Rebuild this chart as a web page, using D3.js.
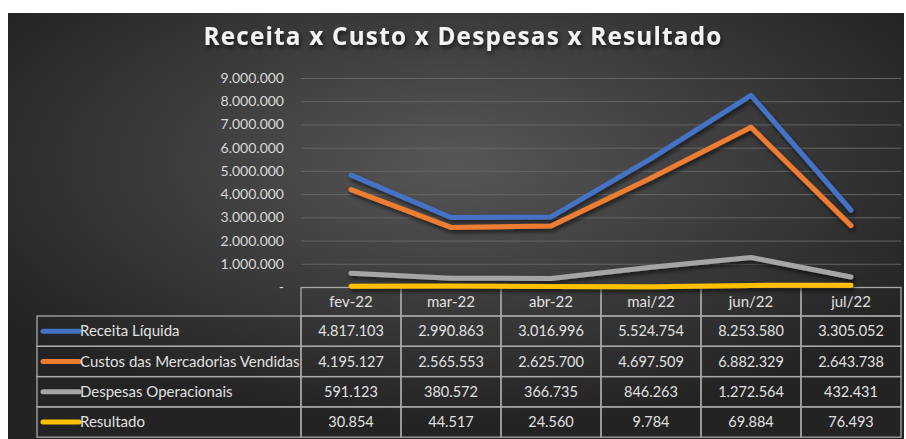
<!DOCTYPE html>
<html>
<head>
<meta charset="utf-8">
<script src="https://cdn.jsdelivr.net/npm/d3@7"></script>
<style>
  body { margin: 0; background: #fff; }
  svg { display: block; }
</style>
</head>
<body>
<div id="chart"></div>
<script>
  // data
  var months = ["fev-22", "mar-22", "abr-22", "mai/22", "jun/22", "jul/22"];
  var seriesNames = ["Receita Líquida", "Custos das Mercadorias Vendidas", "Despesas Operacionais", "Resultado"];
  var receita = [4817103, 2990863, 3016996, 5524754, 8253580, 3305052];
  var custos = [4195127, 2565553, 2625700, 4697509, 6882329, 2643738];
  var despesas = [591123, 380572, 366735, 846263, 1272564, 432431];
  var resultado = [30854, 44517, 24560, 9784, 69884, 76493];
  var yTicks = [0, 1000000, 2000000, 3000000, 4000000, 5000000, 6000000, 7000000, 8000000, 9000000];
  var colors = ["#4472C4", "#ED7D31", "#A5A5A5", "#FFC000"];

  var allSeries = [receita, custos, despesas, resultado];

  var W = 906, H = 439;
  var font = "Lato, 'Open Sans', sans-serif";

  var ptBR = d3.formatLocale({decimal: ",", thousands: ".", grouping: [3], currency: ["R$", ""]});
  var fmt = ptBR.format(",.0f");

  var svg = d3.select("#chart").append("svg")
    .attr("width", W)
    .attr("height", H);

  var defs = svg.append("defs");
  var grad = defs.append("radialGradient")
    .attr("id", "bg")
    .attr("cx", "50%").attr("cy", "35%").attr("r", "62%");
  grad.append("stop").attr("offset", "0%").attr("stop-color", "#575757");
  grad.append("stop").attr("offset", "100%").attr("stop-color", "#232323");

  // shadow region in page units so flat lines are not clipped
  var shadow = defs.append("filter").attr("id", "shadow")
    .attr("filterUnits", "userSpaceOnUse")
    .attr("x", 0).attr("y", 0).attr("width", W).attr("height", H);
  shadow.append("feDropShadow")
    .attr("dx", 1.5).attr("dy", 3).attr("stdDeviation", 2)
    .attr("flood-color", "#000").attr("flood-opacity", 0.6);

  // panel
  svg.append("rect")
    .attr("x", 8).attr("y", 13)
    .attr("width", 896).attr("height", 426)
    .attr("fill", "url(#bg)");

  // title
  svg.append("text")
    .attr("x", 463).attr("y", 45)
    .attr("text-anchor", "middle")
    .attr("font-family", "'Open Sans', sans-serif")
    .attr("font-weight", 700)
    .attr("font-size", 24.3)
    .attr("letter-spacing", 1.2)
    .attr("fill", "#f2f2f2")
    .attr("filter", "url(#shadow)")
    .text("Receita x Custo x Despesas x Resultado");

  // scales
  var x = d3.scaleBand().domain(months).range([301, 901]);
  var y = d3.scaleLinear().domain([0, 9000000]).range([287, 78]);

  // gridlines
  svg.append("g")
    .attr("transform", "translate(301,0)")
    .call(d3.axisRight(y).tickValues(yTicks.slice(1)).tickSize(600).tickFormat(""))
    .call(function (g) { g.select(".domain").remove(); })
    .selectAll("line")
    .attr("stroke", "#646464")
    .attr("stroke-width", 1);

  // y axis labels
  svg.append("g")
    .attr("transform", "translate(284,0)")
    .call(d3.axisLeft(y).tickValues(yTicks).tickSize(0)
      .tickFormat(function (d) { return d === 0 ? "-" : fmt(d); }))
    .call(function (g) { g.select(".domain").remove(); })
    .selectAll("text")
    .attr("x", 0)
    .attr("font-family", font)
    .attr("font-size", 14)
    .attr("fill", "#d9d9d9");

  // data table
  var rowTop = 316, rowH = 30.3, headTop = 287.5, tableLeft = 37;
  var border = "#a9a9a9";
  var table = svg.append("g");

  // header cells
  table.selectAll("rect.head")
    .data(months)
    .enter().append("rect")
    .attr("class", "head")
    .attr("x", function (d) { return x(d); })
    .attr("y", headTop)
    .attr("width", x.bandwidth())
    .attr("height", rowTop - headTop)
    .attr("fill", "none")
    .attr("stroke", border)
    .attr("stroke-width", 1.3);

  table.selectAll("text.head")
    .data(months)
    .enter().append("text")
    .attr("class", "head")
    .attr("x", function (d) { return x(d) + x.bandwidth() / 2; })
    .attr("y", (headTop + rowTop) / 2)
    .attr("dy", "0.35em")
    .attr("text-anchor", "middle")
    .attr("font-family", font)
    .attr("font-size", 15)
    .attr("fill", "#e0e0e0")
    .text(function (d) { return d; });

  var rows = table.selectAll("g.row")
    .data(allSeries)
    .enter().append("g")
    .attr("class", "row")
    .attr("transform", function (d, i) { return "translate(0," + (rowTop + i * rowH) + ")"; });

  rows.append("rect")
    .attr("x", tableLeft)
    .attr("width", 301 - tableLeft)
    .attr("height", rowH)
    .attr("fill", "none")
    .attr("stroke", border)
    .attr("stroke-width", 1.3);

  rows.append("line")
    .attr("x1", 43).attr("x2", 79)
    .attr("y1", rowH / 2).attr("y2", rowH / 2)
    .attr("stroke", function (d, i) { return colors[i]; })
    .attr("stroke-width", 5)
    .attr("stroke-linecap", "round");

  rows.append("text")
    .attr("x", 80)
    .attr("y", rowH / 2)
    .attr("dy", "0.35em")
    .attr("font-family", font)
    .attr("font-size", 15)
    .attr("fill", "#e0e0e0")
    .text(function (d, i) { return seriesNames[i]; });

  rows.selectAll("rect.cell")
    .data(function (d) { return d; })
    .enter().append("rect")
    .attr("class", "cell")
    .attr("x", function (d, i) { return x(months[i]); })
    .attr("width", x.bandwidth())
    .attr("height", rowH)
    .attr("fill", "none")
    .attr("stroke", border)
    .attr("stroke-width", 1.3);

  rows.selectAll("text.val")
    .data(function (d) { return d; })
    .enter().append("text")
    .attr("class", "val")
    .attr("x", function (d, i) { return x(months[i]) + x.bandwidth() / 2; })
    .attr("y", rowH / 2)
    .attr("dy", "0.35em")
    .attr("text-anchor", "middle")
    .attr("font-family", font)
    .attr("font-size", 14.5)
    .attr("fill", "#e0e0e0")
    .text(function (d) { return fmt(d); });

  // lines, drawn over the table's top edge
  var line = d3.line()
    .x(function (d, i) { return x(months[i]) + x.bandwidth() / 2; })
    .y(function (d) { return y(d); });

  svg.append("g")
    .selectAll("path")
    .data(allSeries)
    .enter().append("path")
    .attr("d", line)
    .attr("fill", "none")
    .attr("stroke", function (d, i) { return colors[i]; })
    .attr("stroke-width", 5)
    .attr("stroke-linecap", "round")
    .attr("stroke-linejoin", "round")
    .attr("filter", "url(#shadow)");
</script>
</body>
</html>
